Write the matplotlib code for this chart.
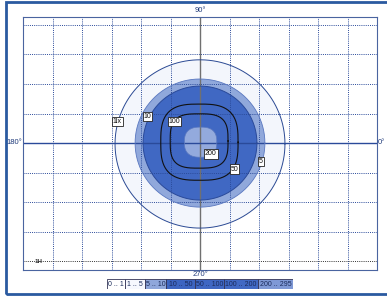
import numpy as np
import matplotlib
matplotlib.use("Agg")
import matplotlib.pyplot as plt
from matplotlib.patches import Polygon, Rectangle

plt.rcParams['font.family'] = ['Liberation Sans', 'DejaVu Sans']

# isolux contours (grid units, one unit = one grid cell)
levels = [1, 5, 10, 50, 100, 200]
level_labels = ["1lx", "5", "10", "50", "100", "200"]
half_w = [2.88, 2.20, 1.93, 1.31, 0.98, 0.55]
half_h = [2.85, 2.17, 1.93, 1.29, 0.92, 0.51]
shape_p = [2.0, 2.0, 2.0, 3.0, 3.2, 2.6]
center_x = [0.0, 0.0, 0.0, -0.02, -0.03, 0.02]
center_y = [-0.03, 0.0, 0.0, 0.03, 0.07, 0.03]
fill_cols = ['#f3f6fc', '#90a8db', '#4068c3', '#4068c3', '#4068c3', '#93aadd']
edge_cols = ['#2b4a94', '#5a78c0', '#2a4a9a', '#111111', '#111111', '#5a78c0']
edge_lw = [0.7, 0.6, 0.7, 0.8, 0.8, 0.5]
label_x = [-2.81, 2.07, -1.78, 1.17, -0.86, 0.37]
label_y = [0.73, -0.61, 0.90, -0.88, 0.73, -0.37]

# legend
legend_labels = ["0 .. 1", "1 .. 5", "5 .. 10", "10 .. 50", "50 .. 100", "100 .. 200", "200 .. 295"]
legend_cols = ['#ffffff', '#f6f8fe', '#8fa7db', '#3d65c1', '#3f67c3', '#4169c4', '#7f99d6']
legend_w = [18, 20, 21, 29, 29, 34, 35]

fig = plt.figure(figsize=(3.87, 2.98), dpi=100)
ax = fig.add_axes([23/387, 1-270/298, 354/387, 253/298])
ax.set_xlim(-6, 6)
ax.set_ylim(-4.3, 4.27)

t = np.linspace(0, 2*np.pi, 400)
for i in range(len(levels)):
    c, s = np.cos(t), np.sin(t)
    e = 2.0 / shape_p[i]
    xs = center_x[i] + half_w[i]*np.sign(c)*np.abs(c)**e
    ys = center_y[i] + half_h[i]*np.sign(s)*np.abs(s)**e
    ax.add_patch(Polygon(np.column_stack([xs, ys]), closed=True,
                         facecolor=fill_cols[i], edgecolor='none', zorder=1))
    ax.plot(xs, ys, color=edge_cols[i], lw=edge_lw[i], zorder=3)

grid_col = '#2a4a9a'
for gx in range(-5, 6):
    if gx != 0:
        ax.axvline(gx, color=grid_col, lw=0.7, ls=(0, (1.0, 1.2)), zorder=2)
for gy in range(-3, 5):
    if gy != 0:
        ax.axhline(gy, color=grid_col, lw=0.7, ls=(0, (1.0, 1.2)), zorder=2)
ax.axhline(-4, color='#333333', lw=0.7, ls=(0, (1.0, 1.2)), zorder=2)
ax.text(-5.47, -4, "1H", fontsize=4.5, color='#333333', ha='center', va='center',
        fontweight='bold', zorder=4)

ax.axvline(0, color='#707070', lw=1.0, zorder=2.5)
ax.axhline(0, color='#2a4a9a', lw=1.0, zorder=2.5)

for i in range(len(levels)):
    ax.text(label_x[i], label_y[i], level_labels[i], fontsize=5, color='#111111',
            ha='center', va='center', zorder=5,
            bbox=dict(boxstyle='square,pad=0.15', fc='white', ec='#222222', lw=0.6))

ax.set_xticks([])
ax.set_yticks([])
for sp in ax.spines.values():
    sp.set_color('#4a64a0')
    sp.set_linewidth(0.8)

txt_col = '#1f3a7a'
fig.text(200/387, 1-11/298, "90°", fontsize=5.5, color=txt_col, ha='center', va='center')
fig.text(200/387, 1-274/298, "270°", fontsize=5.5, color=txt_col, ha='center', va='center')
fig.text(14/387, 1-143/298, "180°", fontsize=5.5, color=txt_col, ha='center', va='center')
fig.text(378/387, 1-143/298, "0°", fontsize=5.5, color=txt_col, ha='left', va='center')

# legend strip
lax = fig.add_axes([107/387, 1-289/298, 186/387, 10/298])
lax.set_xlim(0, sum(legend_w))
lax.set_ylim(0, 1)
lax.axis('off')
x0 = 0
for lab, col, w in zip(legend_labels, legend_cols, legend_w):
    lax.add_patch(Rectangle((x0, 0), w, 1, facecolor=col, edgecolor='#333355', lw=0.6))
    lax.text(x0 + w/2, 0.5, lab, fontsize=5, color='#1a2a5a', ha='center', va='center')
    x0 += w

# outer frame
fig.patches.append(Rectangle((6/387, 1-294/298), 400/387, 292.5/298, transform=fig.transFigure,
                             fill=False, edgecolor='#2a5aa0', lw=2.0))

fig.savefig("out.png", dpi=100)
